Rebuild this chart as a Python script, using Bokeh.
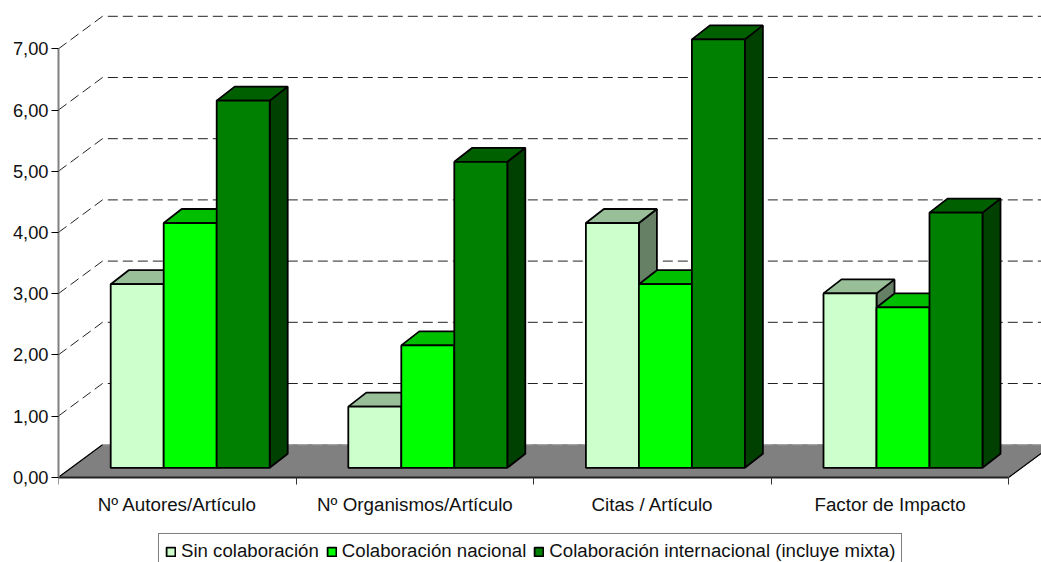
from bokeh.plotting import figure
from bokeh.models import ColumnDataSource, FixedTicker, Range1d, Legend, LegendItem
from bokeh.embed import file_html
from bokeh.resources import INLINE

categories = ["Nº Autores/Artículo", "Nº Organismos/Artículo", "Citas / Artículo", "Factor de Impacto"]
series_names = ["Sin colaboración", "Colaboración nacional", "Colaboración internacional (incluye mixta)"]
sin_colab = [3.0, 1.0, 4.0, 2.85]
nacional = [4.0, 2.0, 3.0, 2.62]
internacional = [6.0, 5.0, 7.0, 4.17]
y_ticks = [0, 1, 2, 3, 4, 5, 6, 7]
y_labels = ["0,00", "1,00", "2,00", "3,00", "4,00", "5,00", "6,00", "7,00"]

front_colors = ["#CCFFCC", "#00FF00", "#008000"]
top_colors = ["#99BF99", "#00BF00", "#006000"]
side_colors = ["#668066", "#008000", "#004000"]

# projection parameters (category units / value units)
WALL_DX, WALL_DY = 44 / 237.6, 32.5 / 61.2
BAR_START, BAR_W = 52.2 / 237.6, 53.0 / 237.6
BAR_BASE = 9.4 / 61.2
DEPTH_DX, DEPTH_DY = 18 / 237.6, 14 / 61.2
N = len(categories)

W, H = 1041, 562
p = figure(width=W, height=H, output_backend="svg", toolbar_location=None,
           x_range=Range1d(0, (W - 58) / 237.6),
           y_range=Range1d((476.7 - H) / 61.2, 476.7 / 61.2),
           min_border_left=58, min_border_right=0, min_border_top=0, min_border_bottom=0,
           outline_line_color=None, background_fill_color="white", border_fill_color="white")
p.grid.visible = False

# y axis
ya = p.yaxis[0]
ya.ticker = FixedTicker(ticks=y_ticks)
ya.major_label_overrides = {t: l for t, l in zip(y_ticks, y_labels)}
ya.bounds = (0, 7)
ya.axis_line_color = "#808080"
ya.axis_line_width = 2
ya.major_tick_line_color = "black"
ya.major_tick_out = 7
ya.major_tick_in = 0
ya.minor_tick_line_color = None
ya.major_label_text_font = "Liberation Sans"
ya.major_label_text_font_size = "18.3px"
ya.major_label_text_color = "#111111"
ya.major_label_standoff = 3

# x axis
xa = p.xaxis[0]
mids = [i + 0.5 for i in range(N)]
xa.fixed_location = 0
xa.ticker = FixedTicker(ticks=mids, minor_ticks=list(range(N + 1)))
xa.major_label_overrides = {m: c for m, c in zip(mids, categories)}
xa.bounds = (0, N)
xa.axis_line_color = "#222222"
xa.axis_line_width = 2
xa.major_tick_line_color = None
xa.minor_tick_line_color = "#333333"
xa.minor_tick_out = 7
xa.minor_tick_in = 0
xa.major_label_text_font = "Liberation Sans"
xa.major_label_text_font_size = "18.8px"
xa.major_label_text_color = "#111111"
xa.major_label_standoff = 10

# floor
p.patch([0, WALL_DX, N + WALL_DX, N], [0, WALL_DY, WALL_DY, 0],
        fill_color="#808080", line_color="#808080", line_width=1)
p.line([0, WALL_DX], [0, WALL_DY], line_color="black", line_width=1.2)
p.line([N, N + WALL_DX], [0, WALL_DY], line_color="black", line_width=1.2)

# dashed gridlines
for t in y_ticks[1:]:
    p.line([0, WALL_DX, N + WALL_DX], [t, t + WALL_DY, t + WALL_DY],
           line_color="#222222", line_width=1, line_dash="10 5")
p.line([WALL_DX, N + WALL_DX], [WALL_DY, WALL_DY], line_color="#aaaaaa", line_width=1, line_dash="10 5")

# bars
legend_items = []
for j, vals in enumerate([sin_colab, nacional, internacional]):
    lefts = [i + BAR_START + j * BAR_W for i in range(N)]
    rights = [l + BAR_W for l in lefts]
    tops = [BAR_BASE + v for v in vals]
    sx = [[r, r + DEPTH_DX, r + DEPTH_DX, r] for r in rights]
    sy = [[BAR_BASE, BAR_BASE + DEPTH_DY, t + DEPTH_DY, t] for t in tops]
    tx = [[l, l + DEPTH_DX, r + DEPTH_DX, r] for l, r in zip(lefts, rights)]
    ty = [[t, t + DEPTH_DY, t + DEPTH_DY, t] for t in tops]
    p.patches(sx, sy, fill_color=side_colors[j], line_color="black", line_width=1.8)
    p.patches(tx, ty, fill_color=top_colors[j], line_color="black", line_width=1.8)
    src = ColumnDataSource(dict(left=lefts, right=rights, top=tops, bottom=[BAR_BASE] * N))
    r = p.quad(left="left", right="right", top="top", bottom="bottom", source=src,
               fill_color=front_colors[j], line_color="black", line_width=1.8)
    legend_items.append(LegendItem(label=series_names[j], renderers=[r]))

legend = Legend(items=legend_items, orientation="horizontal", location=(100, -7),
                label_text_font="Liberation Sans", label_text_font_size="18.65px",
                label_text_color="#111111", glyph_width=11, glyph_height=11,
                label_standoff=5, spacing=7, padding=6, margin=0,
                border_line_color="black", border_line_width=1,
                background_fill_color="white", background_fill_alpha=1)
p.add_layout(legend, "center")

open("out.html", "w").write(file_html(p, INLINE))
